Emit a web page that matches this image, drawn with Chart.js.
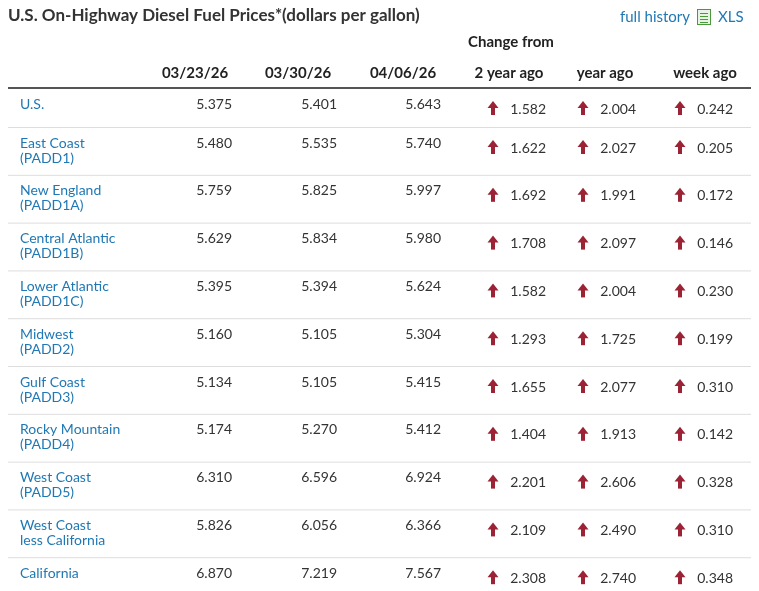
<!DOCTYPE html>
<html><head><meta charset="utf-8">
<script src="https://cdn.jsdelivr.net/npm/chart.js@4"></script>
<style>html,body{margin:0;padding:0;background:#fff}#wrap{width:759px;height:591px}</style>
</head><body><div id="wrap"><canvas id="c" width="759" height="591"></canvas></div>
<script>
// table data
const regions = [['U.S.'], ['East Coast', '(PADD1)'], ['New England', '(PADD1A)'], ['Central Atlantic', '(PADD1B)'],
  ['Lower Atlantic', '(PADD1C)'], ['Midwest', '(PADD2)'], ['Gulf Coast', '(PADD3)'], ['Rocky Mountain', '(PADD4)'],
  ['West Coast', '(PADD5)'], ['West Coast', 'less California'], ['California']];
const dates = ['03/23/26', '03/30/26', '04/06/26'];
const price0323 = [5.375, 5.480, 5.759, 5.629, 5.395, 5.160, 5.134, 5.174, 6.310, 5.826, 6.870];
const price0330 = [5.401, 5.535, 5.825, 5.834, 5.394, 5.105, 5.105, 5.270, 6.596, 6.056, 7.219];
const price0406 = [5.643, 5.740, 5.997, 5.980, 5.624, 5.304, 5.415, 5.412, 6.924, 6.366, 7.567];
const changeLabels = ['2 year ago', 'year ago', 'week ago'];
const chg2y = [1.582, 1.622, 1.692, 1.708, 1.582, 1.293, 1.655, 1.404, 2.201, 2.109, 2.308];
const chg1y = [2.004, 2.027, 1.991, 2.097, 2.004, 1.725, 2.077, 1.913, 2.606, 2.490, 2.740];
const chgWk = [0.242, 0.205, 0.172, 0.146, 0.230, 0.199, 0.310, 0.142, 0.328, 0.310, 0.348];

const F = 'Lato, "Open Sans", sans-serif';
const blue = '#1f78b4', dark = '#333', red = '#9b2335';

const tablePlugin = {
  id: 'table',
  afterDraw(chart) {
    const ctx = chart.ctx, xs = chart.scales.x, ys = chart.scales.y;
    const X = v => xs.getPixelForValue(v);
    const rowTop = i => ys.getPixelForValue(i === 0 ? ys.min : i - 0.5);
    ctx.save();
    // title
    ctx.fillStyle = dark; ctx.font = 'bold 17px ' + F; ctx.textBaseline = 'middle'; ctx.textAlign = 'left';
    ctx.fillText('U.S. On-Highway Diesel Fuel Prices*(dollars per gallon)', 8, 16);
    ctx.fillStyle = blue; ctx.font = '15px ' + F;
    ctx.fillText('full history', 620, 17);
    ctx.fillText('XLS', 718, 17);
    // xls icon
    ctx.fillStyle = '#e8f3e4'; ctx.fillRect(697, 9, 14, 16);
    ctx.strokeStyle = '#4a9a3c'; ctx.lineWidth = 1; ctx.strokeRect(697.5, 9.5, 13, 15);
    ctx.fillStyle = '#4a9a3c';
    for (let k = 0; k < 4; k++) ctx.fillRect(700, 13 + k * 3, 8, 1);
    // headers
    ctx.fillStyle = '#222'; ctx.font = 'bold 15px ' + F; ctx.textAlign = 'center';
    ctx.fillText('Change from', X(511), 42);
    const hx = [195, 298, 403, 509, 605, 705];
    dates.concat(changeLabels).forEach((h, j) => ctx.fillText(h, X(hx[j]), 73));
    // header line
    ctx.fillStyle = '#555'; ctx.fillRect(X(8), ys.getPixelForValue(ys.min) - 1, X(751) - X(8), 2);
    const valX = [232, 337, 441];
    const chg = [[chg2y, 493, 546], [chg1y, 583, 636], [chgWk, 680, 733]];
    regions.forEach((r, i) => {
      const t = rowTop(i);
      if (i > 0) { ctx.fillStyle = '#ddd'; ctx.fillRect(X(8), t, X(751) - X(8), 1); }
      ctx.font = '14px ' + F; ctx.textAlign = 'left'; ctx.fillStyle = blue;
      r.forEach((line, k) => ctx.fillText(line, X(20), t + 16 + k * 15));
      ctx.fillStyle = dark; ctx.textAlign = 'right';
      [price0323, price0330, price0406].forEach((arr, j) => ctx.fillText(arr[i].toFixed(3), X(valX[j]), t + 16));
      chg.forEach(([arr, ax, nx]) => {
        const ay = t + 21, cx = X(ax);
        ctx.fillStyle = red;
        ctx.beginPath(); ctx.moveTo(cx, ay - 8); ctx.lineTo(cx + 5.5, ay - 1); ctx.lineTo(cx - 5.5, ay - 1); ctx.closePath(); ctx.fill();
        ctx.fillRect(cx - 2, ay - 2, 4, 8);
        ctx.fillStyle = dark; ctx.fillText(arr[i].toFixed(3), X(nx), ay);
      });
    });
    ctx.restore();
  }
};

new Chart(document.getElementById('c'), {
  type: 'scatter',
  data: { datasets: [{ data: [] }] },
  options: {
    responsive: false, animation: false,
    layout: { padding: { top: 88, left: 0, right: 0, bottom: 0 } },
    plugins: { legend: { display: false }, tooltip: { enabled: false } },
    scales: {
      x: { type: 'linear', min: 0, max: 759, display: false },
      y: { type: 'linear', min: -0.316, max: 10.207, reverse: true, display: false }
    }
  },
  plugins: [tablePlugin]
});
</script></body></html>
